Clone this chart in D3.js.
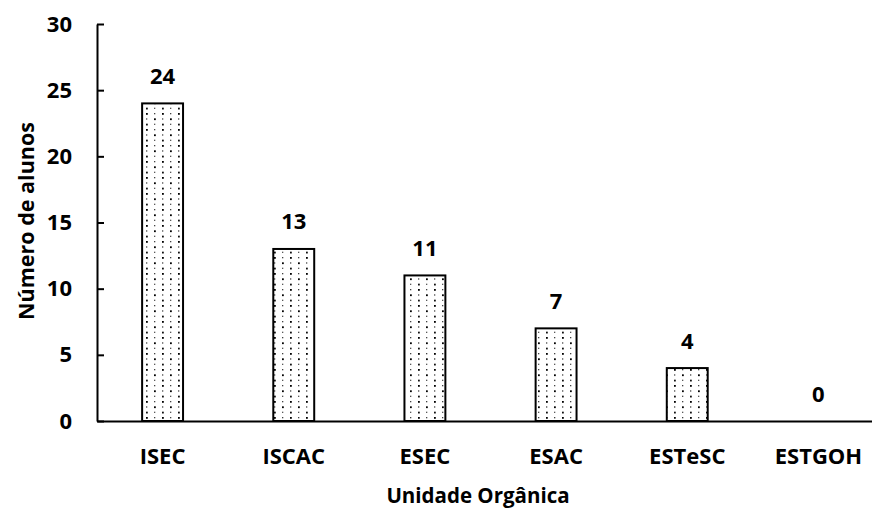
<!DOCTYPE html>
<html><head><meta charset="utf-8">
<script src="https://cdn.jsdelivr.net/npm/d3@7"></script>
<style>body{margin:0;background:#fff}svg{display:block}text{font-family:"Open Sans",sans-serif;font-weight:bold;fill:#000}</style>
</head><body>
<svg id="c" width="872" height="509"></svg>
<script>
const categories = ["ISEC","ISCAC","ESEC","ESAC","ESTeSC","ESTGOH"];
const values = [24,13,11,7,4,0];
const yTicks = [0,5,10,15,20,25,30];
const yTitle = "Número de alunos";
const xTitle = "Unidade Orgânica";

const FS = "22px", FF = "'Open Sans', sans-serif";
const svg = d3.select("#c");
const x0 = 97, x1 = 884, yTop = 24, yBot = 421;
const x = d3.scaleBand().domain(categories).range([x0, x1]).paddingInner(0.688).paddingOuter(0.344);
const y = d3.scaleLinear().domain([0,30]).range([yBot, yTop]);

const defs = svg.append("defs");
const pat = defs.append("pattern").attr("id","dots").attr("patternUnits","userSpaceOnUse")
  .attr("x",143).attr("y",0).attr("width",16).attr("height",16);
pat.append("rect").attr("width",16).attr("height",16).attr("fill","#fff");
[[3,1,1.8,"#000"],[11,1,1.3,"#444"],[3,6.33,1.3,"#444"],[11,6.33,1.8,"#000"],[3,11.67,1.8,"#111"],[11,11.67,1.3,"#555"]]
  .forEach(([px,py,s,c]) => pat.append("rect").attr("x",px).attr("y",py).attr("width",s).attr("height",s).attr("fill",c));

svg.append("g").selectAll("rect").data(categories).join("rect")
  .attr("x", d => x(d)).attr("width", x.bandwidth())
  .attr("y", (d,i) => y(values[i])).attr("height", (d,i) => y(0) - y(values[i]))
  .attr("fill","url(#dots)").attr("stroke","#000").attr("stroke-width",2)
  .attr("display",(d,i)=> values[i] > 0 ? null : "none");

svg.append("g").selectAll("text").data(categories).join("text")
  .attr("x", d => x(d) + x.bandwidth()/2).attr("y", (d,i) => y(values[i]) - 19.5)
  .attr("text-anchor","middle").style("font-size",FS)
  .text((d,i) => values[i]);

const ya = svg.append("g").attr("transform",`translate(${x0},0)`)
  .call(d3.axisLeft(y).tickValues(yTicks).tickSize(-7).tickPadding(25).tickSizeOuter(0));
ya.select(".domain").attr("stroke","#000").attr("stroke-width",2);
ya.selectAll(".tick line").attr("stroke","#000").attr("stroke-width",2);
ya.selectAll(".tick text").style("font-size",FS).style("font-family",FF).style("font-weight","bold");

const xa = svg.append("g").attr("transform",`translate(0,${yBot})`)
  .call(d3.axisBottom(x).tickSize(0).tickPadding(0).tickSizeOuter(0));
xa.select(".domain").attr("stroke","#000").attr("stroke-width",2);
xa.selectAll(".tick text").attr("dy",null).attr("y",43).style("font-size",FS).style("font-family",FF).style("font-weight","bold");

svg.append("text").attr("transform","translate(34,221) rotate(-90)")
  .attr("text-anchor","middle").style("font-size","21.5px").text(yTitle);
svg.append("text").attr("x",478).attr("y",503)
  .attr("text-anchor","middle").style("font-size","20.5px").text(xTitle);
</script>
</body></html>
